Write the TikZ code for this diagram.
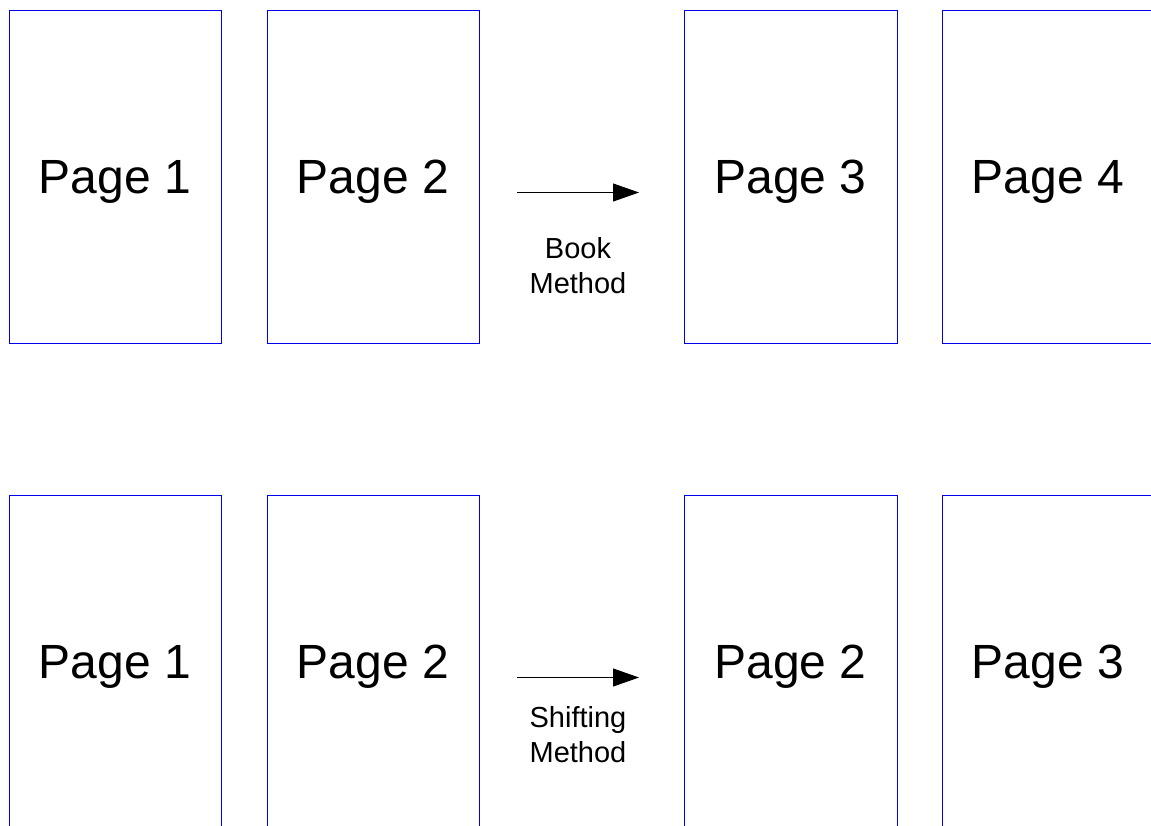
\documentclass[tikz,border=0pt]{standalone}
\usepackage{fontspec}
\setmainfont{Liberation Sans}
\usetikzlibrary{arrows.meta}
\definecolor{pageblue}{RGB}{0,0,235}
\tikzset{
  pagebox/.style={draw=pageblue, line width=1.2bp},
  pagetext/.style={font=\fontsize{48bp}{56bp}\selectfont, anchor=base, inner sep=0pt},
  methodtext/.style={font=\fontsize{29bp}{35bp}\selectfont, align=center, anchor=base, inner sep=0pt},
  flow/.style={line width=1bp, draw=black, -{Triangle[length=26bp, width=18bp]}}
}
\begin{document}
\begin{tikzpicture}[x=1bp, y=-1bp]
\useasboundingbox (0,0) rectangle (1151,826);

% top row: book method
\draw[pagebox] (9.5,10.5) -- (221.5,10.5) -- (221.5,343.5) -- (9.5,343.5) -- cycle;
\draw[pagebox] (267.5,10.5) -- (479.5,10.5) -- (479.5,343.5) -- (267.5,343.5) -- cycle;
\draw[pagebox] (684.5,10.5) -- (897.5,10.5) -- (897.5,343.5) -- (684.5,343.5) -- cycle;
\draw[pagebox] (1152,10.5) -- (942.5,10.5) -- (942.5,343.5) -- (1152,343.5);
\node[pagetext] (t1) at (115,193) {Page 1};
\node[pagetext] (t2) at (373,193) {Page 2};
\node[pagetext] (t3) at (790.5,193) {Page 3};
\node[pagetext] (t4) at (1048,193) {Page 4};
\coordinate (a1) at (517,192.5);
\coordinate (b1) at (639,192.5);
\draw[flow] (a1) -- (b1);
\node[methodtext] (m1) at (578,293) {Book\\Method};

% bottom row: shifting method
\draw[pagebox] (9.5,827) -- (9.5,495.5) -- (221.5,495.5) -- (221.5,827);
\draw[pagebox] (267.5,827) -- (267.5,495.5) -- (479.5,495.5) -- (479.5,827);
\draw[pagebox] (684.5,827) -- (684.5,495.5) -- (897.5,495.5) -- (897.5,827);
\draw[pagebox] (942.5,827) -- (942.5,495.5) -- (1152,495.5);
\node[pagetext] (u1) at (115,678) {Page 1};
\node[pagetext] (u2) at (373,678) {Page 2};
\node[pagetext] (u3) at (790.5,678) {Page 2};
\node[pagetext] (u4) at (1048,678) {Page 3};
\coordinate (a2) at (517,677.5);
\coordinate (b2) at (639,677.5);
\draw[flow] (a2) -- (b2);
\node[methodtext] (m2) at (578,762) {Shifting\\Method};
\end{tikzpicture}
\end{document}
